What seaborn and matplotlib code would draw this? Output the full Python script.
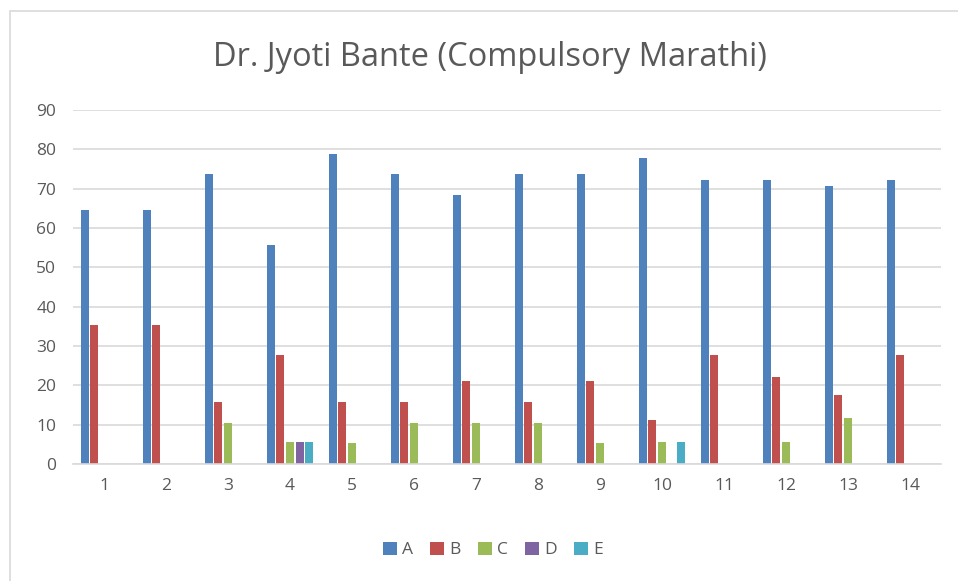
import numpy as np
import pandas as pd
import matplotlib
matplotlib.use('Agg')
import matplotlib.pyplot as plt
import seaborn as sns
from matplotlib.patches import Rectangle

# values (percent of students per grade)
groups = [str(i) for i in range(1, 15)]
grades = ['A', 'B', 'C', 'D', 'E']
A = [64.7, 64.7, 73.7, 55.6, 78.9, 73.7, 68.4, 73.7, 73.7, 77.8, 72.2, 72.2, 70.6, 72.2]
B = [35.3, 35.3, 15.8, 27.8, 15.8, 15.8, 21.1, 15.8, 21.1, 11.1, 27.8, 22.2, 17.6, 27.8]
C = [0, 0, 10.5, 5.6, 5.3, 10.5, 10.5, 10.5, 5.3, 5.6, 0, 5.6, 11.8, 0]
D = [0, 0, 0, 5.6, 0, 0, 0, 0, 0, 0, 0, 0, 0, 0]
E = [0, 0, 0, 5.6, 0, 0, 0, 0, 0, 5.6, 0, 0, 0, 0]

df = pd.DataFrame({'No': groups * 5,
                   'Grade': np.repeat(grades, len(groups)),
                   'Pct': A + B + C + D + E})

pal = {'A': '#4f81bd', 'B': '#c0504d', 'C': '#9bbb59', 'D': '#8064a2', 'E': '#4bacc6'}
txt = '#595959'

sns.set_theme(style='white')
plt.rcParams['font.family'] = ['Open Sans', 'DejaVu Sans']

fig = plt.figure(figsize=(9.58, 5.81), dpi=100)
ax = fig.add_axes([73/958, 1-464/581, (941-73)/958, (464-110)/581])

sns.barplot(data=df, x='No', y='Pct', hue='Grade', palette=pal, width=0.78,
            gap=0.2, saturation=1, ax=ax, legend=True, linewidth=0)

ax.set_ylim(0, 90)
ax.set_xlim(-0.5, 13.5)
ax.set_yticks(range(0, 91, 10))
ax.yaxis.grid(True, color='#d9d9d9', linewidth=1.2)
ax.set_axisbelow(True)
for s in ['top', 'right', 'left']:
    ax.spines[s].set_visible(False)
ax.spines['bottom'].set_color('#d9d9d9')
ax.spines['bottom'].set_linewidth(1.2)
ax.tick_params(axis='both', length=0, labelsize=12.5, colors=txt)
ax.tick_params(axis='y', pad=12)
ax.tick_params(axis='x', pad=10)
ax.set_xlabel('')
ax.set_ylabel('')

fig.text(490/958, 1-58/581, 'Dr. Jyoti Bante (Compulsory Marathi)', ha='center', va='center',
         fontsize=23.5, color=txt)

handles, labels = ax.get_legend_handles_labels()
ax.legend(handles, labels, loc='center', bbox_to_anchor=((493-73)/868, -(550-464)/354),
          ncol=5, frameon=False, fontsize=12.5, handlelength=0.8, handleheight=0.8,
          handletextpad=0.3, columnspacing=1.0, labelcolor=txt)

fig.patches.append(Rectangle((10/958, -0.1), 1.2, 1.1 - 11/581, transform=fig.transFigure,
                             fill=False, edgecolor='#d9d9d9', linewidth=1.2))

fig.savefig('out.png', dpi=100)
